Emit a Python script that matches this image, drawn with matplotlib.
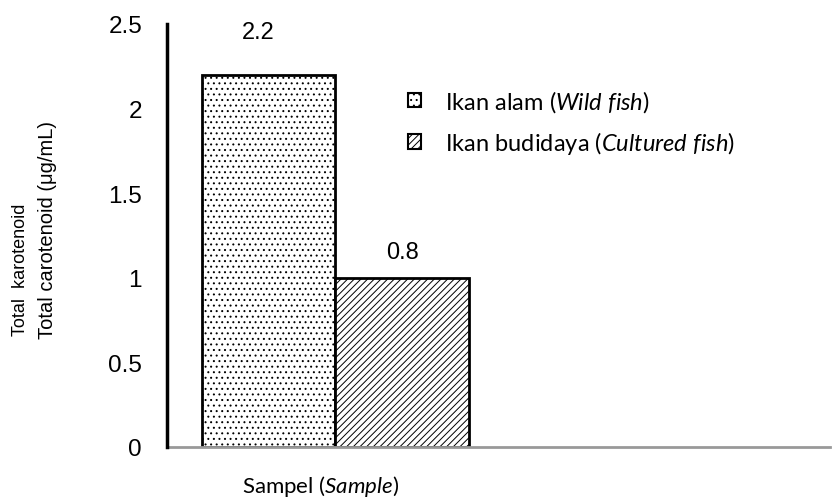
import matplotlib
matplotlib.use('Agg')
import matplotlib.pyplot as plt

sample = 'Sampel'
groups = ['Ikan alam', 'Ikan budidaya']
groups_en = ['Wild fish', 'Cultured fish']
heights = [2.2, 1.0]
value_labels = ['2.2', '0.8']
hatches = ['...', '/////']
label_pad = [(-10, 43), (0, 26)]  # pixels from bar top
yticks = [0, 0.5, 1, 1.5, 2, 2.5]
ytick_labels = ['0', '0.5', '1', '1.5', '2', '2.5']

plt.rcParams['hatch.linewidth'] = 0.7
plt.rcParams['hatch.color'] = '#333333'
plt.rcParams['mathtext.fontset'] = 'custom'
plt.rcParams['mathtext.rm'] = 'Lato'
plt.rcParams['mathtext.it'] = 'Lato:italic'


def itl(s):
    return r'$\mathit{' + s.replace(' ', r'\ ') + '}$'


fig = plt.figure(figsize=(8.35, 5.02), dpi=100)
ax = fig.add_axes([0.2, 0.1076, 0.794, 0.8426])

pos = [0, 1]
for i in range(2):
    lab = groups[i] + ' (' + itl(groups_en[i]) + ')'
    ax.bar(pos[i], heights[i], width=1.0, color='white', edgecolor='black',
           hatch=hatches[i], linewidth=2, label=lab)
    dx, dy = label_pad[i]
    ax.annotate(value_labels[i], (pos[i], heights[i]), xytext=(dx * 0.72, dy * 0.72),
                textcoords='offset points', ha='center', va='center',
                fontsize=17, family='Liberation Sans')

ax.set_xlim(-0.762, 4.204)
ax.set_ylim(0, 2.5)
ax.set_yticks(yticks)
ax.set_yticklabels(ytick_labels, fontsize=17.5, family='Liberation Sans')
ax.tick_params(axis='y', length=0, pad=18)
ax.set_xticks([])

for s in ['top', 'right']:
    ax.spines[s].set_visible(False)
ax.spines['left'].set_linewidth(2.5)
ax.spines['left'].set_color('black')
ax.spines['left'].set_zorder(5)
ax.spines['bottom'].set_linewidth(2)
ax.spines['bottom'].set_color('#999999')

fig.text(321 / 835, 1 - 487 / 502, sample + ' (' + itl('Sample') + ')', fontsize=16,
         family='Lato', ha='center', va='center')

fig.text(21 / 835, 1 - 270 / 502, 'Total  karotenoid', rotation=90,
         ha='center', va='center', fontsize=13, family='Liberation Sans')
fig.text(48 / 835, 1 - 230 / 502, 'Total carotenoid (μg/mL)', rotation=90,
         ha='center', va='center', fontsize=14.5, family='Liberation Sans')

leg = ax.legend(loc='center left', bbox_to_anchor=(408 / 835, 1 - 123 / 502),
                bbox_transform=fig.transFigure, frameon=False, borderpad=0,
                borderaxespad=0, handlelength=0.55, handleheight=0.55,
                handletextpad=1.0, labelspacing=0.62,
                prop={'family': 'Lato', 'size': 17})
for h in leg.legend_handles:
    h.set_linewidth(1.5)

fig.savefig('out.png', dpi=100)
